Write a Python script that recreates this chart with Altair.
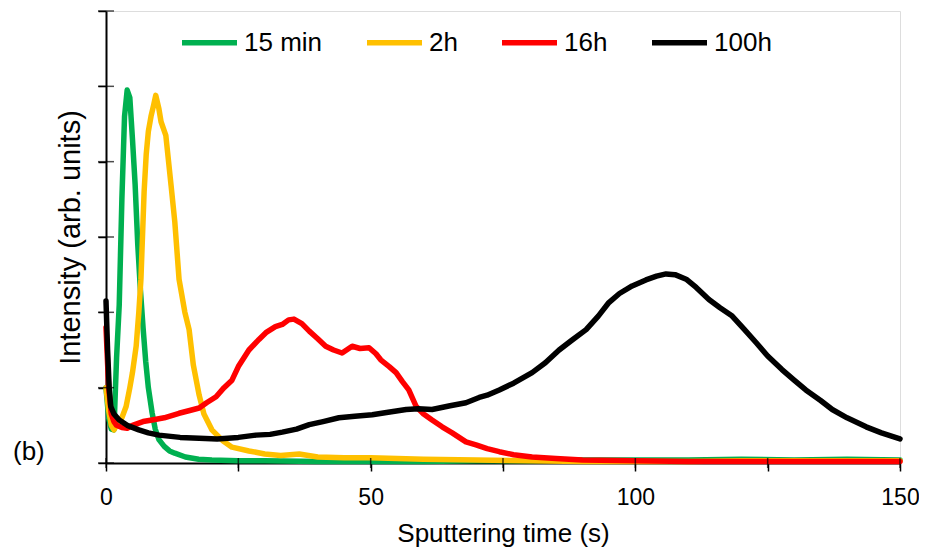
import altair as alt
import pandas as pd

series_names = ["15 min", "2h", "16h", "100h"]
series_colors = ["#00B050", "#FFC000", "#FF0000", "#000000"]
series_widths = [5.5, 5.5, 5.5, 4]

green_t = [0, 0.5, 1.0, 1.5, 2.0, 2.5, 3.0, 3.5, 4.0, 4.5, 5.0, 5.5, 6.0, 6.5, 7.0, 7.5, 8.0, 8.7, 9.3, 10,
           11, 12, 13, 15, 17.5, 20, 25, 30, 40, 50, 60, 70, 80, 90, 100, 110, 120, 130, 140, 150]
green_v = [1.0, 0.6, 0.45, 0.44, 1.4, 2.1, 3.5, 4.6, 4.95, 4.85, 4.3, 3.7, 2.9, 2.3, 1.8, 1.35, 1.0, 0.67, 0.45, 0.31,
           0.22, 0.16, 0.13, 0.08, 0.05, 0.04, 0.03, 0.03, 0.02, 0.02, 0.02, 0.03, 0.03, 0.04, 0.04, 0.04, 0.05, 0.04, 0.05, 0.04]

yellow_t = [0, 0.5, 1.0, 1.5, 2.0, 3.0, 3.8, 4.5, 5.0, 5.7, 6.2, 6.6, 7.2, 7.6, 8.0, 8.5, 9.0, 9.4, 10.0, 10.4,
            11.3, 12.3, 13.0, 13.8, 14.9, 15.7, 16.5, 17.6, 18.5, 20, 22, 23.8, 27, 30, 33, 36.5, 40, 45, 50, 55,
            60, 70, 80, 90, 100, 110, 120, 130, 140, 150]
yellow_v = [1.0, 0.7, 0.5, 0.44, 0.5, 0.6, 0.75, 1.0, 1.2, 1.55, 2.0, 2.44, 3.6, 4.1, 4.4, 4.6, 4.75, 4.88, 4.7, 4.53,
            4.35, 3.68, 3.2, 2.44, 2.0, 1.77, 1.3, 0.9, 0.65, 0.44, 0.3, 0.21, 0.16, 0.12, 0.1, 0.12, 0.08, 0.07, 0.07, 0.06,
            0.05, 0.04, 0.03, 0.02, 0.02, 0.02, 0.03, 0.03, 0.03, 0.03]

red_t = [0, 0.5, 1.0, 1.5, 2, 3, 4, 5, 7, 8.7, 11, 13.8, 16, 17.6, 19, 20.8, 22.3, 23.8, 25, 27,
         28.9, 30.2, 32, 33.3, 34.5, 35.5, 37, 38.4, 40, 41.5, 43, 44.6, 46.5, 48, 49.7, 51, 51.9, 53.5, 54.8, 56,
         57.2, 58.6, 60, 61.6, 63.5, 65.4, 68, 69.9, 72, 74.3, 77, 80.5, 85, 90, 100, 110, 120, 130, 140, 150]
red_v = [1.8, 1.0, 0.65, 0.55, 0.5, 0.47, 0.46, 0.5, 0.55, 0.57, 0.6, 0.66, 0.7, 0.73, 0.8, 0.88, 1.0, 1.1, 1.28, 1.5,
         1.64, 1.73, 1.81, 1.84, 1.9, 1.91, 1.85, 1.75, 1.65, 1.55, 1.5, 1.46, 1.55, 1.52, 1.53, 1.45, 1.37, 1.28, 1.2, 1.08,
         0.97, 0.75, 0.65, 0.57, 0.48, 0.4, 0.28, 0.24, 0.19, 0.15, 0.11, 0.08, 0.06, 0.04, 0.03, 0.02, 0.02, 0.02, 0.02, 0.02]

black_t = [0, 0.3, 0.6, 0.9, 1.5, 2.5, 4, 6.2, 8, 10, 14, 17.6, 21, 25, 28.3, 31, 33.3, 36, 38.4, 41,
           44, 47, 50.3, 53, 56.7, 59, 61.6, 65, 68, 70.5, 72, 74.3, 77, 80.5, 83, 85.6, 88, 90.7, 93, 95,
           97, 99.4, 102, 104, 105.8, 107.5, 109.6, 111.5, 113.9, 116, 118.3, 120.5, 122.8, 125, 127.7, 130, 132.2, 135, 137.2, 140,
           143.6, 146.5, 150]
black_v = [2.15, 1.5, 1.0, 0.75, 0.65, 0.57, 0.5, 0.44, 0.4, 0.37, 0.34, 0.33, 0.32, 0.34, 0.37, 0.38, 0.41, 0.45, 0.51, 0.55,
           0.6, 0.62, 0.64, 0.67, 0.71, 0.72, 0.71, 0.76, 0.8, 0.87, 0.9, 0.97, 1.06, 1.2, 1.33, 1.5, 1.63, 1.77, 1.95, 2.13,
           2.25, 2.35, 2.43, 2.48, 2.51, 2.5, 2.44, 2.33, 2.17, 2.06, 1.95, 1.78, 1.6, 1.42, 1.24, 1.1, 0.97, 0.83, 0.71, 0.6,
           0.48, 0.4, 0.32]

x_tick_values = [0, 25, 50, 75, 100, 125, 150]
y_tick_values = [0, 1, 2, 3, 4, 5, 6]

FONT = "Liberation Sans"

rows = []
for name, ts, vs in zip(series_names, [green_t, yellow_t, red_t, black_t], [green_v, yellow_v, red_v, black_v]):
    for i, (t, v) in enumerate(zip(ts, vs)):
        rows.append({"series": name, "t": t, "v": v, "i": i})
df = pd.DataFrame(rows)

x_scale = alt.Scale(domain=[0, 150], nice=False, zero=False)
y_scale = alt.Scale(domain=[0, 6], nice=False)

lines = alt.Chart(df).mark_line(strokeCap="round", strokeJoin="round").encode(
    x=alt.X("t:Q", scale=x_scale,
            axis=alt.Axis(title="Sputtering time (s)", values=x_tick_values,
                          labelExpr="datum.value % 50 === 0 ? datum.label : ''",
                          grid=False, tickSize=8, tickWidth=1.5, tickColor="black",
                          domainColor="black", domainWidth=2, labelFontSize=23, labelColor="black",
                          labelPadding=15, titleFontSize=26, titleFontWeight="normal", titleColor="black",
                          titlePadding=11, labelFont=FONT, titleFont=FONT, labelFlush=False)),
    y=alt.Y("v:Q", scale=y_scale,
            axis=alt.Axis(title="Intensity (arb. units)", values=y_tick_values, labels=False,
                          grid=False, tickSize=8, tickWidth=1.5, tickColor="black",
                          domainColor="black", domainWidth=2, titleFontSize=29, titleFontWeight="normal",
                          titleColor="black", titlePadding=12, titleFont=FONT)),
    color=alt.Color("series:N", sort=series_names,
                    scale=alt.Scale(domain=series_names, range=series_colors),
                    legend=alt.Legend(title=None, orient="none", legendX=73, legendY=1,
                                      direction="horizontal", symbolType="stroke", symbolSize=3025,
                                      symbolStrokeWidth=6, labelFontSize=26, labelFont=FONT,
                                      labelColor="black", labelOffset=4, columnPadding=33, padding=0)),
    strokeWidth=alt.StrokeWidth("series:N", scale=alt.Scale(domain=series_names, range=series_widths), legend=None),
    order=alt.Order("i:Q"),
)

ytick_df = pd.DataFrame({"y": y_tick_values})
xtick_df = pd.DataFrame({"x": x_tick_values})

yticks = alt.Chart(ytick_df).mark_tick(color="black", thickness=1.5, size=16).encode(
    y=alt.Y("y:Q", scale=y_scale), x=alt.value(0))
xticks = alt.Chart(xtick_df).mark_tick(color="black", thickness=1.5, size=10).encode(
    x=alt.X("x:Q", scale=x_scale), y=alt.value(452))

label_b = alt.Chart(pd.DataFrame({"txt": ["(b)"]})).mark_text(
    align="left", baseline="middle", fontSize=26, font=FONT, color="black").encode(
    text="txt:N", x=alt.value(-93), y=alt.value(441))

chart = alt.layer(lines, yticks, xticks, label_b).properties(
    width=794, height=452,
    autosize=alt.AutoSizeParams(type="none"),
    padding={"left": 98, "top": 3, "right": 19, "bottom": 92},
).configure_view(stroke="black", strokeWidth=2).configure(background="white")

chart.save("out.html", embed_options={"renderer": "svg", "actions": False})
